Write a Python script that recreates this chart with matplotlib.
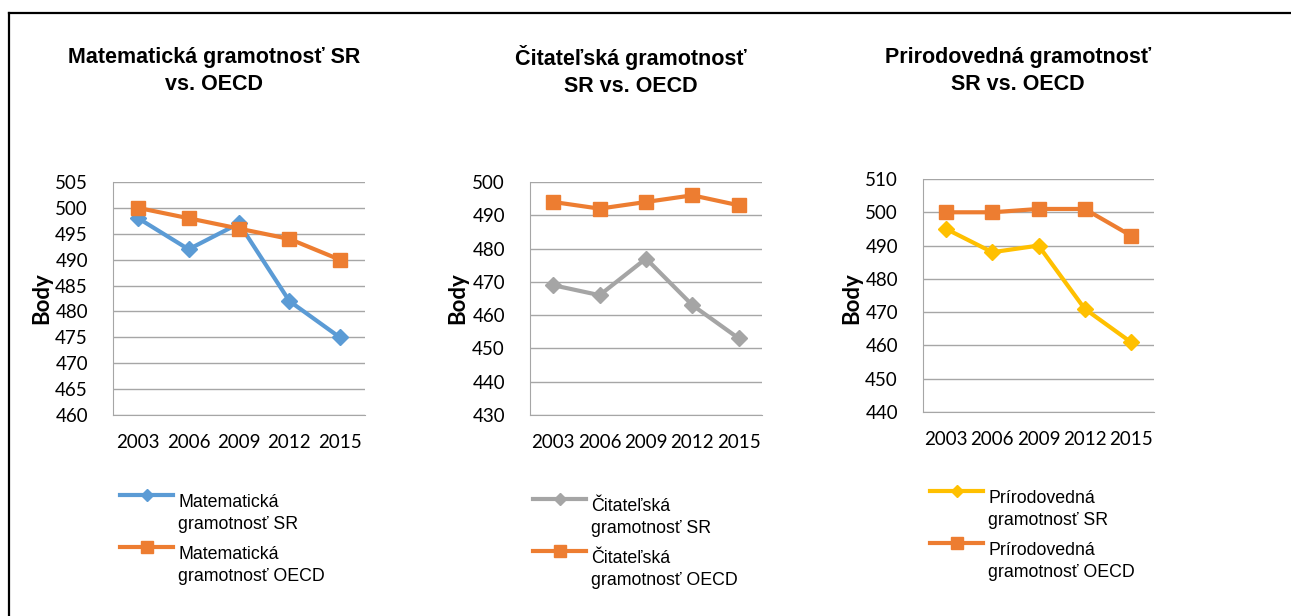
import matplotlib
matplotlib.use("Agg")
import matplotlib.pyplot as plt
from matplotlib.lines import Line2D

years = ["2003", "2006", "2009", "2012", "2015"]

mat_sr = [498, 492, 497, 482, 475]
mat_oecd = [500, 498, 496, 494, 490]
cit_sr = [469, 466, 477, 463, 453]
cit_oecd = [494, 492, 494, 496, 493]
prir_sr = [495, 488, 490, 471, 461]
prir_oecd = [500, 500, 501, 501, 493]

titles = ["Matematická gramotnosť SR\nvs. OECD",
          "Čitateľská gramotnosť\nSR vs. OECD",
          "Prirodovedná gramotnosť\nSR vs. OECD"]
sr_labels = ["Matematická\ngramotnosť SR", "Čitateľská\ngramotnosť SR", "Prírodovedná\ngramotnosť SR"]
oecd_labels = ["Matematická\ngramotnosť OECD", "Čitateľská\ngramotnosť OECD", "Prírodovedná\ngramotnosť OECD"]
y_ranges = [(460, 505, 5), (430, 500, 10), (440, 510, 10)]

sr_colors = ["#5B9BD5", "#A5A5A5", "#FFC000"]
oecd_color = "#ED7D31"

W, H = 1291, 616
narrow = ["Liberation Sans", "DejaVu Sans"]
tickfont = ["Lato", "DejaVu Sans"]

fig = plt.figure(figsize=(W / 100, H / 100), dpi=100)

# axes boxes in pixels: left, right, top, bottom
boxes = [(113, 365, 182, 415), (530, 762, 182, 415), (923, 1154, 179, 412)]
title_x = [214, 631, 1018]
body_x = [42, 458, 852]
legend_x = [120, 533, 930]
legend_dy = [0, 4, -4]

series = [(mat_sr, mat_oecd), (cit_sr, cit_oecd), (prir_sr, prir_oecd)]

for i in range(3):
    l, r, t, b = boxes[i]
    ax = fig.add_axes([l / W, 1 - b / H, (r - l) / W, (b - t) / H])
    sr, oecd = series[i]
    x = range(len(years))
    ax.plot(x, sr, color=sr_colors[i], lw=3, marker="D", ms=8, zorder=3)
    ax.plot(x, oecd, color=oecd_color, lw=3, marker="s", ms=10, zorder=3)
    lo, hi, step = y_ranges[i]
    ax.set_ylim(lo, hi)
    ax.set_yticks(range(lo, hi + 1, step))
    ax.set_xlim(-0.5, len(years) - 0.5)
    ax.set_xticks(list(x))
    ax.set_xticklabels(years)
    ax.grid(axis="y", color="#A6A6A6", lw=1)
    ax.set_axisbelow(True)
    for s in ["top", "right"]:
        ax.spines[s].set_visible(False)
    ax.spines["left"].set_color("#A6A6A6")
    ax.spines["bottom"].set_color("#A6A6A6")
    ax.tick_params(length=0, labelsize=13.5, pad=14)
    ax.tick_params(axis="y", pad=18)
    for lab in ax.get_xticklabels() + ax.get_yticklabels():
        lab.set_fontfamily(tickfont)

    fig.text(body_x[i] / W, 1 - 298 / H, "Body", rotation=90, ha="center", va="center",
             fontsize=16, fontweight="bold", family=tickfont)
    fig.text(title_x[i] / W, 1 - 71 / H, titles[i], ha="center", va="center",
             fontsize=15.5, fontweight="bold", family=narrow, linespacing=1.35)

    # legend
    dy = legend_dy[i]
    lx = legend_x[i]
    for k, (lab, col, mk, ms, ytop) in enumerate([
            (sr_labels[i], sr_colors[i], "D", 6, 495),
            (oecd_labels[i], oecd_color, "s", 9, 547)]):
        yy = 1 - (ytop + dy) / H
        fig.add_artist(Line2D([lx / W, (lx + 53) / W], [yy, yy], transform=fig.transFigure,
                              color=col, lw=3, marker=None))
        fig.add_artist(Line2D([(lx + 26.5) / W], [yy], transform=fig.transFigure,
                              color=col, marker=mk, ms=ms, lw=0))
        fig.text((lx + 58) / W, 1 - (ytop + dy - 1) / H, lab, ha="left", va="top",
                 fontsize=12.8, family=narrow, linespacing=1.35)

# border lines
fig.add_artist(Line2D([8.5 / W, 1], [1 - 13 / H, 1 - 13 / H], transform=fig.transFigure,
                      color="black", lw=1.6))
fig.add_artist(Line2D([8.5 / W, 8.5 / W], [0, 1 - 13 / H], transform=fig.transFigure,
                      color="black", lw=1.6))

fig.savefig("out.png", dpi=100, facecolor="white")
